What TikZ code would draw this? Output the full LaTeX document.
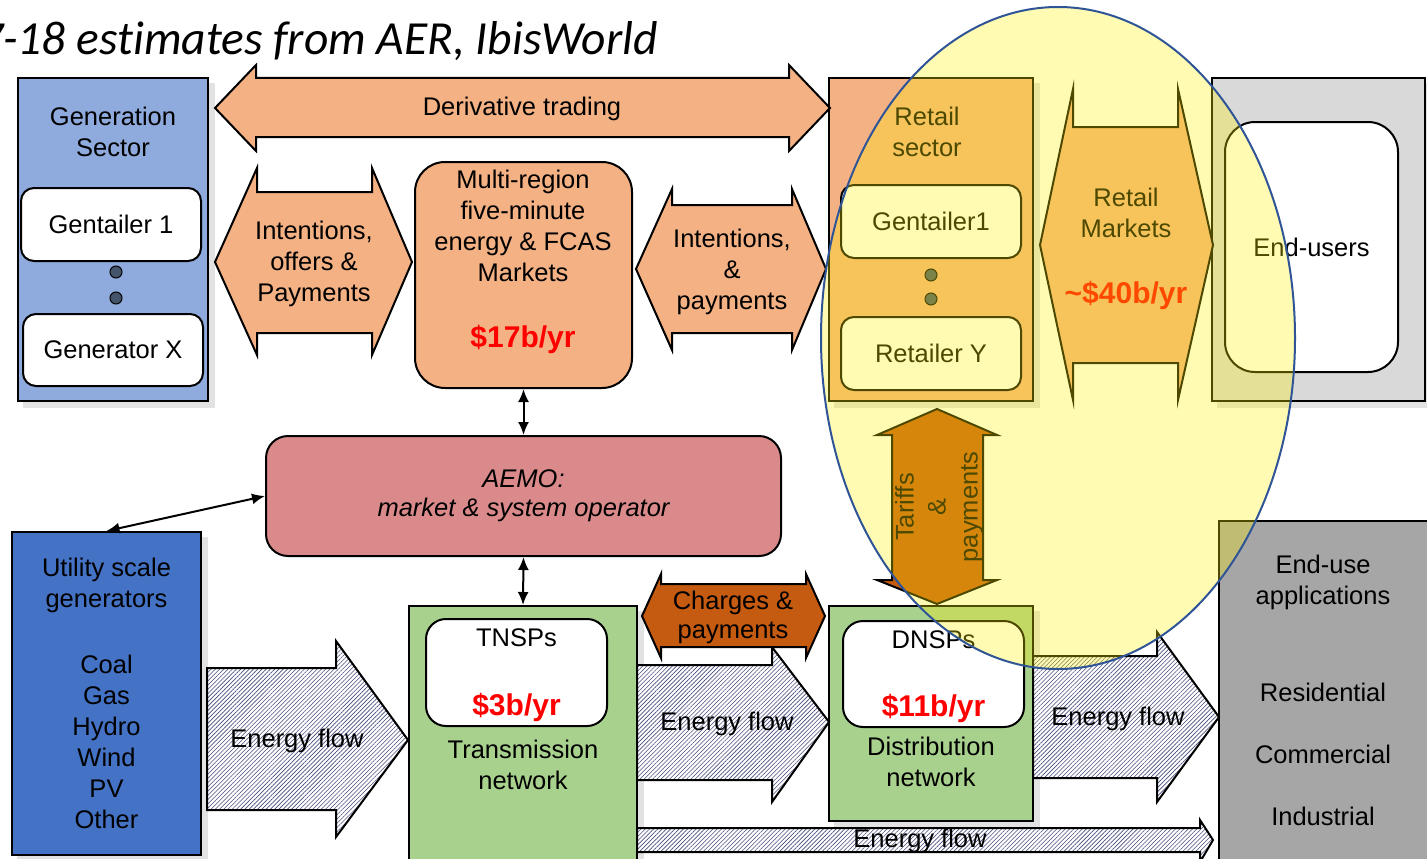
\documentclass[tikz,border=0pt]{standalone}
\usepackage{fontspec}
\setmainfont{Liberation Sans}
\newfontfamily\titlefont[Ligatures=CommonOff]{Carlito}
\usetikzlibrary{shapes.geometric,arrows.meta,patterns.meta,backgrounds}

\definecolor{genblue}{HTML}{8FAADC}
\definecolor{utilblue}{HTML}{4472C4}
\definecolor{salmon}{HTML}{F4B183}
\definecolor{aemored}{HTML}{DA8A8A}
\definecolor{netgreen}{HTML}{A9D18E}
\definecolor{rust}{HTML}{C55A11}
\definecolor{usergray}{HTML}{D9D9D9}
\definecolor{usegray}{HTML}{A6A6A6}
\definecolor{dotgray}{HTML}{44546A}
\definecolor{hatchblue}{HTML}{464C7C}
\definecolor{ringblue}{HTML}{2F5597}
\definecolor{amount}{HTML}{FF0000}
\definecolor{shadowgray}{HTML}{E2E2E2}

\tikzset{
  x=1pt, y=-1pt,
  lbl/.style={font=\fontsize{25.5}{31}\selectfont, align=center, inner sep=0pt},
  amt/.style={font=\fontsize{30}{34}\selectfont\bfseries, text=amount, inner sep=0pt},
  panel/.style={draw=black, line width=2pt, inner sep=0pt},
  card/.style={draw=black, line width=2pt, fill=white, rounded corners=13pt, inner sep=0pt,
               font=\fontsize{25.5}{31}\selectfont, align=center},
  blockarrow/.style={draw=black, line width=2pt, line join=miter},
  flow/.style={blockarrow, preaction={fill=white},
               pattern={Lines[angle=45, distance=3pt, line width=0.6pt]}, pattern color=hatchblue},
  link/.style={line width=2pt, {Latex[length=13pt,width=11pt]}-{Latex[length=13pt,width=11pt]}},
  dot/.style={circle, draw=black, line width=1pt, fill=dotgray, minimum size=12pt, inner sep=0pt},
}

\begin{document}
\begin{tikzpicture}
\useasboundingbox (0,0) rectangle (1427,859);

% heading
\node[anchor=base west, inner sep=0pt, font=\titlefont\fontsize{47.5}{54}\selectfont\itshape]
  (title) at (3,55) {\llap{7}-18 estimates from AER, IbisWorld};

% sector panels
\node[panel, fill=genblue, minimum width=190pt, minimum height=323pt] (gen) at (113,239.5) {};
\node[panel, fill=salmon, minimum width=204pt, minimum height=323pt] (retail) at (931,239.5) {};
\node[panel, fill=usergray, minimum width=213pt, minimum height=323pt] (eusr) at (1318.5,239.5) {};
\node[panel, fill=utilblue, minimum width=189pt, minimum height=323pt] (util) at (106.5,693.5) {};
\node[panel, fill=netgreen, minimum width=228pt, minimum height=264pt] (tnsp) at (523,738) {};
\node[panel, fill=netgreen, minimum width=204pt, minimum height=215pt] (dist) at (931,713.5) {};
\node[panel, fill=usegray, minimum width=221pt, minimum height=349pt] (euse) at (1329.5,695.5) {};

\begin{scope}[on background layer]
  \foreach \n in {gen,retail,eusr,util,tnsp,dist,euse}
    \fill[shadowgray] ([xshift=6pt,yshift=-6pt]\n.north west) rectangle ([xshift=6pt,yshift=-6pt]\n.south east);
\end{scope}

% market operator and spot market
\node[draw=black, line width=2pt, fill=salmon, rounded corners=30pt,
      minimum width=217pt, minimum height=226pt] (multi) at (523.5,275) {};
\node[draw=black, line width=2pt, fill=aemored, rounded corners=22pt,
      minimum width=515pt, minimum height=120pt, lbl, font=\fontsize{25.5}{29}\selectfont\itshape]
  (aemo) at (523.5,496) {AEMO:\\market \& system operator};

% participant cards
\node[card, minimum width=180pt, minimum height=73pt] (gent1) at (111,224.5) {Gentailer 1};
\node[card, minimum width=180pt, minimum height=72pt] (genx) at (113,350) {Generator X};
\node[card, minimum width=180pt, minimum height=73pt] (rgent) at (931,221.5) {Gentailer1};
\node[card, minimum width=180pt, minimum height=73pt] (rety) at (931,353.5) {Retailer Y};
\node[card, rounded corners=30pt, minimum width=173pt, minimum height=250pt] (eucard) at (1311.5,247) {End-users};
\node[card, rounded corners=20pt, minimum width=181pt, minimum height=107pt] (tcard) at (516.5,672.5) {};
\node[card, rounded corners=20pt, minimum width=181pt, minimum height=106pt] (dcard) at (933.5,674) {};

\node[dot] (gdot1) at (116,272) {};
\node[dot] (gdot2) at (116,298) {};
\node[dot] (rdot1) at (931,275) {};
\node[dot] (rdot2) at (931,299) {};

% trading and payment arrows
\path[blockarrow, fill=salmon] (215,108) -- (256,65) -- (256,78) -- (789,78) -- (789,65) -- (830,108)
  -- (789,151) -- (789,137) -- (256,137) -- (256,151) -- cycle;
\path[blockarrow, fill=salmon] (215,262) -- (257,168) -- (257,192) -- (372,192) -- (372,168) -- (412,262)
  -- (372,355) -- (372,333) -- (257,333) -- (257,355) -- cycle;
\path[blockarrow, fill=salmon] (636,269) -- (672,189) -- (672,205) -- (792,205) -- (792,189) -- (826,269)
  -- (792,350) -- (792,333) -- (672,333) -- (672,350) -- cycle;
\path[blockarrow, fill=salmon] (1040,245) -- (1073,89) -- (1073,127) -- (1178,127) -- (1178,89) -- (1213,245)
  -- (1178,400) -- (1178,363) -- (1073,363) -- (1073,400) -- cycle;
\path[blockarrow, fill=rust] (937,409) -- (997,435) -- (983,435) -- (983,580) -- (997,580) -- (937,604)
  -- (877,580) -- (892,580) -- (892,435) -- (877,435) -- cycle;

% energy flow arrows
\path[flow] (207,668) -- (336,668) -- (336,641) -- (408,740) -- (336,837) -- (336,810) -- (207,810) -- cycle;
\path[flow] (637,665) -- (772,665) -- (772,647) -- (829,722) -- (772,802) -- (772,780) -- (637,780) -- cycle;
\path[flow] (1033,656) -- (1157,656) -- (1157,632) -- (1219,717) -- (1157,802) -- (1157,778) -- (1033,778) -- cycle;
\path[flow] (637,828) -- (1200,828) -- (1200,820) -- (1213,840) -- (1200,862) -- (1200,852) -- (637,852) -- cycle;

\path[blockarrow, fill=rust] (642,616) -- (661,574) -- (661,584) -- (806,584) -- (806,574) -- (825,616)
  -- (806,658) -- (806,647) -- (661,647) -- (661,658) -- cycle;

% labels
\node[lbl] (genlbl) at (113,131.5) {Generation\\Sector};
\node[lbl] (derivlbl) at (522,109) {Derivative trading};
\node[lbl] (offerlbl) at (314,264) {Intentions,\\offers \&\\Payments};
\node[lbl] (multilbl) at (523,226) {Multi-region\\five-minute\\energy \& FCAS\\Markets};
\node[amt] (spotamt) at (523,339) {\$17b/yr};
\node[lbl] (paylbl) at (732,272) {Intentions,\\\&\\payments};
\node[lbl] (retlbl) at (927,131.5) {Retail\\sector};
\node[lbl] (rmktlbl) at (1126,212.5) {Retail\\Markets};
\node[amt] (rmktamt) at (1126,295) {\textasciitilde\$40b/yr};
\node[lbl] (utillbl) at (106.5,585.5) {Utility scale\\generators};
\node[lbl] (fuellbl) at (106.5,742) {Coal\\Gas\\Hydro\\Wind\\PV\\Other};
\node[lbl] (flow1) at (297,741) {Energy flow};
\node[lbl] (flow2) at (727,724) {Energy flow};
\node[lbl] (flow3) at (1118,719) {Energy flow};
\node[lbl] (flow4) at (920,841) {Energy flow};
\node[lbl] (tnsplbl) at (516.5,638) {TNSPs};
\node[amt] (tnspamt) at (516.5,707) {\$3b/yr};
\node[lbl] (translbl) at (523,765) {Transmission\\network};
\node[lbl] (dnsplbl) at (933.5,640) {DNSPs};
\node[amt] (dnspamt) at (933.5,708) {\$11b/yr};
\node[lbl] (distlbl) at (931,762) {Distribution\\network};
\node[lbl, font=\fontsize{25.5}{29}\selectfont] (chglbl) at (733,617) {Charges \&\\payments};
\node[lbl, rotate=90, font=\fontsize{25.5}{32}\selectfont] (tarlbl) at (939,507) {Tariffs\\\&\\payments};
\node[lbl] (euselbl) at (1323,582.5) {End-use\\applications};
\node[lbl] (reslbl) at (1323,692) {Residential};
\node[lbl] (comlbl) at (1323,754) {Commercial};
\node[lbl] (indlbl) at (1323,816) {Industrial};

% operator links
\draw[link] (multi.south) -- (aemo.north);
\draw[link] (aemo.south) -- (tnsp.north);
\draw[link] (aemo.west) -- (util.north);

% retail focus ring
\node[draw=ringblue, line width=2pt, fill=yellow, fill opacity=0.3, ellipse, inner sep=0pt,
      minimum width=474pt, minimum height=662pt] (focus) at (1058,338) {};
\end{tikzpicture}
\end{document}
